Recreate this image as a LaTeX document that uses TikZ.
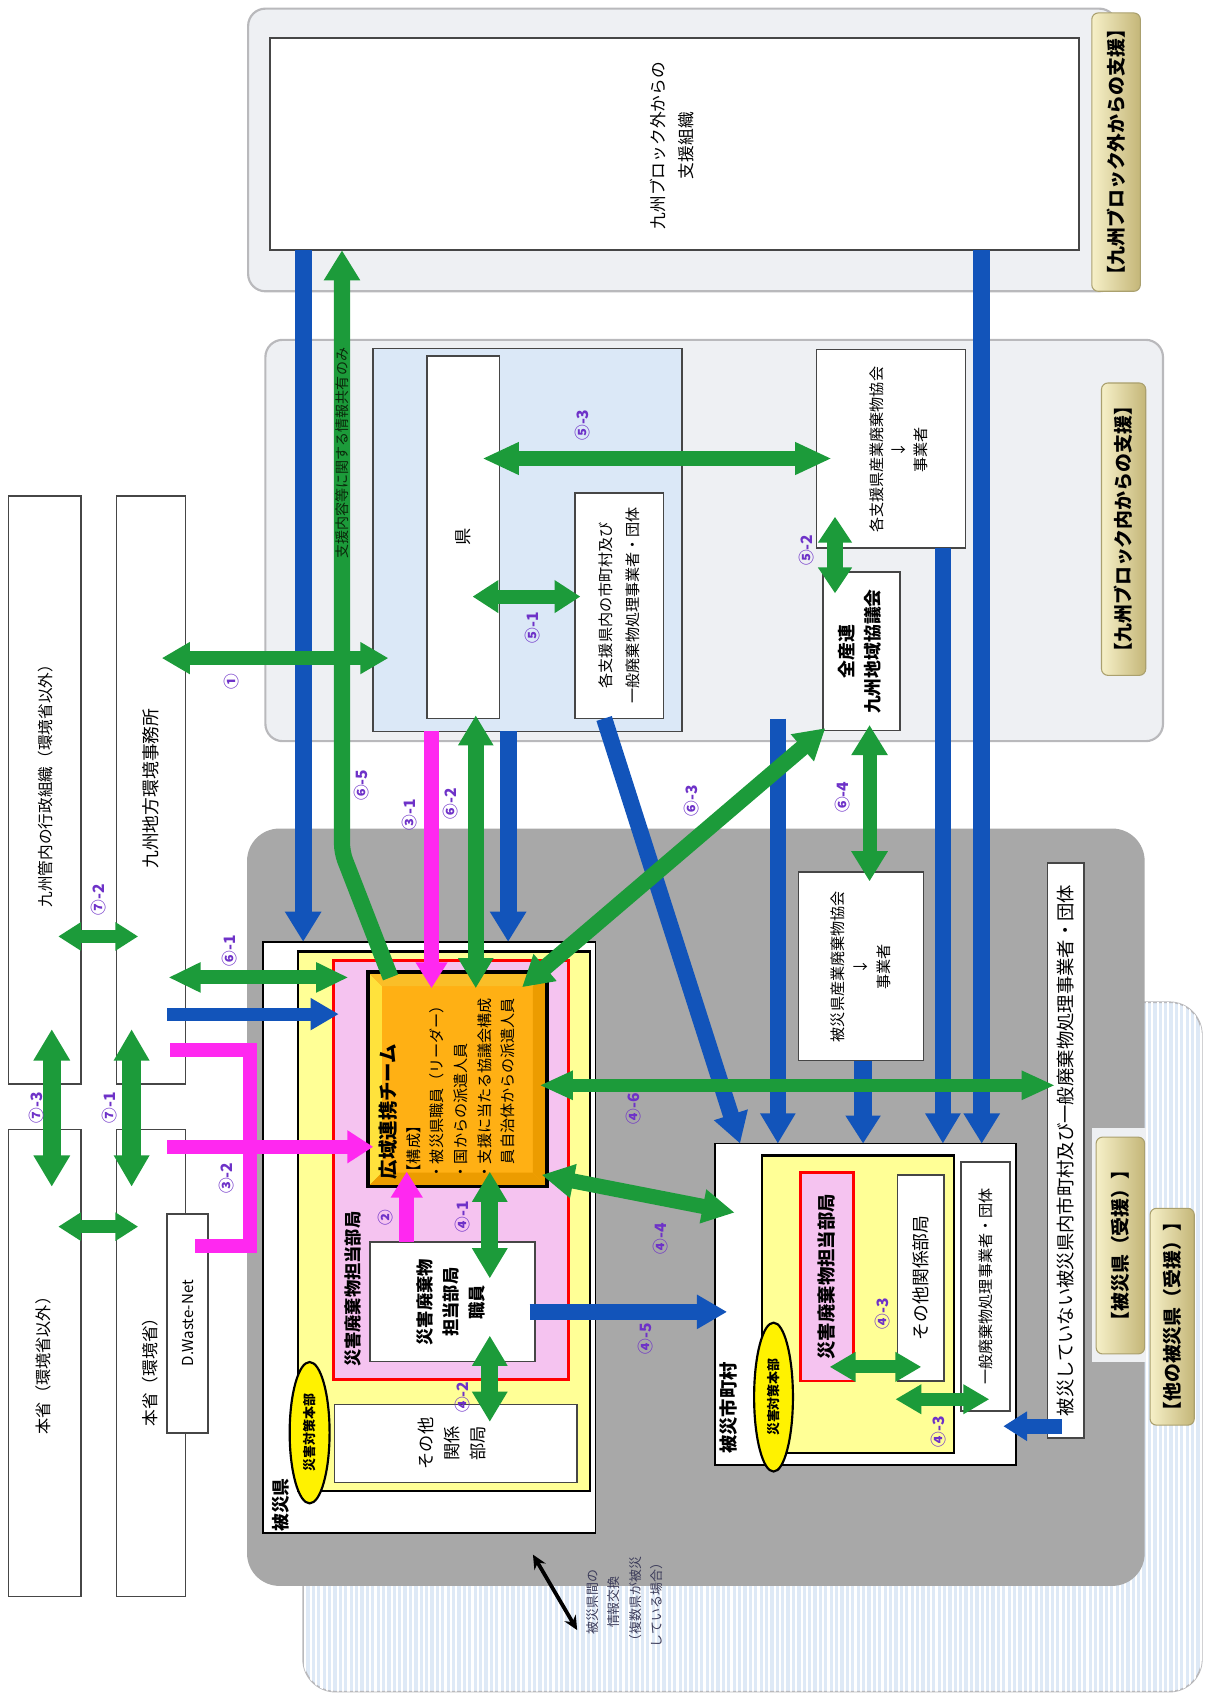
\documentclass[tikz,border=0pt]{standalone}
\usepackage{fontspec}
\setmainfont{Noto Sans CJK JP}
\usetikzlibrary{arrows.meta,shapes.geometric}
\definecolor{grn}{RGB}{28,155,58}
\definecolor{blu}{RGB}{18,84,186}
\definecolor{mag}{RGB}{255,40,240}
\definecolor{lab}{RGB}{110,50,200}
\definecolor{regbg}{RGB}{238,240,243}
\definecolor{regbd}{RGB}{185,185,188}
\definecolor{dgray}{RGB}{168,168,168}
\definecolor{lblue}{RGB}{219,232,247}
\definecolor{stripe}{RGB}{222,233,246}
\definecolor{yel}{RGB}{255,255,150}
\definecolor{pnk}{RGB}{245,195,240}
\definecolor{khl}{RGB}{246,240,200}
\definecolor{khd}{RGB}{196,182,120}
\definecolor{tabd}{RGB}{170,160,110}
\definecolor{bdr}{RGB}{70,70,70}
\definecolor{orin}{RGB}{255,176,20}
\definecolor{orl}{RGB}{255,226,60}
\definecolor{ord}{RGB}{236,156,0}
\definecolor{ort}{RGB}{250,190,40}
\definecolor{dgtxt}{RGB}{10,40,10}
\definecolor{bottxt}{RGB}{60,60,90}
\newcommand\myfs[2]{\fontsize{#1}{#2}\selectfont}
\begin{document}
\begin{tikzpicture}[x=1pt,y=-1pt,
 every node/.style={inner sep=0pt,outer sep=0pt},
 regbox/.style={rectangle,draw=regbd,line width=2pt,fill=regbg,rounded corners=16pt},
 wbox/.style={rectangle,draw=bdr,line width=1.5pt,fill=white},
 tabbox/.style={rectangle,rounded corners=6pt,draw=tabd,line width=1pt,left color=khl,right color=khd},
 rtext/.style={rotate=90,align=center,text=black},
 nlabel/.style={rotate=90,text=lab,font=\myfs{14.5}{16}\bfseries},
 gdbl/.style n args={3}{draw=grn,line width=#1,{Triangle[length=#2,width=#3]}-{Triangle[length=#2,width=#3]}},
 gsgl/.style n args={3}{draw=grn,line width=#1,-{Triangle[length=#2,width=#3]}},
 bsgl/.style n args={3}{draw=blu,line width=#1,-{Triangle[length=#2,width=#3]}},
 msgl/.style n args={3}{draw=mag,line width=#1,-{Triangle[length=#2,width=#3]}},
 gbig/.style={gdbl={15pt}{28pt}{31pt}},
 gmed/.style={gdbl={13pt}{26pt}{28pt}},
 gsml/.style={gdbl={12pt}{21pt}{25pt}},
 bbig/.style={bsgl={16pt}{28pt}{32pt}},
 marr/.style={msgl={14pt}{24pt}{28pt}},
]
\useasboundingbox (0,0) rectangle (1120,1573);

% ---------- background regions ----------
\node[rectangle,rounded corners=30pt,draw=regbd,line width=1.5pt,fill=stripe,minimum width=833pt,minimum height=639pt] (OTH) at (697.5,1248.5) {};
\begin{scope}
 \clip[rounded corners=30pt] (281,929) rectangle (1114,1568);
 \foreach \i in {0,...,167} \draw[white,line width=2pt] (283+\i*5,929) -- (283+\i*5,1568);
\end{scope}
\node[regbox,minimum width=805pt,minimum height=262pt] (RT) at (632.5,139) {};
\node[regbox,minimum width=832pt,minimum height=372pt] (RM) at (662,501) {};
\node[rectangle,rounded corners=30pt,fill=dgray,minimum width=832pt,minimum height=702pt] (R3) at (645,1119) {};
\node[rectangle,fill=regbg,minimum width=50pt,minimum height=216pt] (T3bg) at (1037,1154) {};

% ---------- tabs ----------
\node[tabbox,minimum width=45pt,minimum height=258pt] (T1) at (1034.5,141) {};
\node[tabbox,minimum width=41pt,minimum height=271pt] (T2) at (1041.5,490.5) {};
\node[tabbox,minimum width=45pt,minimum height=201pt] (T3) at (1038.5,1154.5) {};
\node[tabbox,minimum width=41pt,minimum height=201pt] (T4) at (1086.5,1220.5) {};

% ---------- boxes ----------
\node[wbox,minimum width=750pt,minimum height=197pt] (W1) at (625,133.5) {};
\node[wbox,fill=lblue,minimum width=286pt,minimum height=355pt] (LB) at (489,500.5) {};
\node[wbox,minimum width=67pt,minimum height=336pt] (Ken) at (429.5,498) {};
\node[wbox,minimum width=82pt,minimum height=209pt] (KS) at (574,561.5) {};
\node[wbox,minimum width=138pt,minimum height=184pt] (SH) at (826,416) {};
\node[wbox,minimum width=71pt,minimum height=147pt] (ZS) at (798.5,603.5) {};

\node[wbox,minimum width=67pt,minimum height=545pt] (kA) at (41.5,732.5) {};
\node[wbox,minimum width=64pt,minimum height=545pt] (kB) at (140,732.5) {};
\node[wbox,minimum width=67pt,minimum height=433pt] (hA) at (41.5,1263.5) {};
\node[wbox,minimum width=64pt,minimum height=433pt] (hB) at (140,1263.5) {};
\node[wbox,minimum width=38pt,minimum height=203pt] (DW) at (174,1226.5) {};

\node[wbox,draw=black,minimum width=308pt,minimum height=548pt] (KW) at (398,1147) {};
\node[rectangle,draw=black,line width=2pt,fill=yel,minimum width=271pt,minimum height=500pt] (KY) at (411.5,1132) {};
\node[rectangle,draw=red,line width=2.5pt,fill=pnk,minimum width=218pt,minimum height=389pt] (KP) at (418,1084.5) {};
\node[rectangle,draw=black,line width=3pt,fill=orin,minimum width=166pt,minimum height=199pt] (OR) at (424,1000.5) {};
\fill[orl] (342.5,902.5) -- (354,914) -- (354,1087) -- (342.5,1098.5) -- cycle;
\fill[ort] (342.5,902.5) -- (505.5,902.5) -- (494,914) -- (354,914) -- cycle;
\fill[ord] (505.5,902.5) -- (494,914) -- (494,1087) -- (505.5,1098.5) -- cycle;
\fill[ord] (342.5,1098.5) -- (354,1087) -- (494,1087) -- (505.5,1098.5) -- cycle;
\draw[black,line width=3pt] (OR.north west) rectangle (OR.south east);
\node[wbox,minimum width=153pt,minimum height=111pt] (SK) at (419.5,1206.5) {};
\node[wbox,minimum width=225pt,minimum height=72pt] (SO1) at (422.5,1338) {};
\node[ellipse,draw=black,line width=2pt,fill=yellow,minimum width=37pt,minimum height=131pt] (E1) at (287,1328) {};

\node[wbox,minimum width=116pt,minimum height=175pt] (HS) at (798,895.5) {};
\node[wbox,minimum width=34pt,minimum height=533pt] (HN) at (988,1066.5) {};
\node[wbox,draw=black,minimum width=279pt,minimum height=298pt] (SC) at (802.5,1209) {};
\node[rectangle,draw=black,line width=2pt,fill=yel,minimum width=178pt,minimum height=276pt] (SY) at (795,1209) {};
\node[rectangle,draw=red,line width=2.5pt,fill=pnk,minimum width=49pt,minimum height=193pt] (SP) at (766.5,1183.5) {};
\node[wbox,minimum width=43pt,minimum height=191pt] (SO2) at (853.5,1184.5) {};
\node[wbox,minimum width=45pt,minimum height=231pt] (IP) at (913.5,1192.5) {};
\node[ellipse,draw=black,line width=2pt,fill=yellow,minimum width=36pt,minimum height=138pt] (E2) at (717,1295) {};

% ---------- connector end points ----------
\foreach \n/\x/\y in {b4a/560/666,b4b/686/1060,b5a/721/666,b8a/155/940,b8b/314/940,
  b9a/491/1216,b9b/674/1216,b10a/984/1322,b10b/930/1322,
  g1a/150/610,g1b/360/610,g51a/438/553,g51b/538/553,g52a/774/479,g52b/774/550,
  g53a/447/425,g53b/771/425,g61a/156/906,g61b/323/906,g62a/441/663,g62b/441/916,
  g63a/484/915,g63b/765/675,g64a/806/672,g64b/806/817,g65a/362/906,g65b/317/790,
  g71a/122/954,g71b/122/1100,g73a/48/954,g73b/48/1100,g72a/54/868,g72b/128/868,
  g7xa/54/1137,g7xb/128/1137,g41a/454/1086,g41b/454/1185,g42a/454/1238,g42b/454/1318,
  g44a/502/1089,g44b/681/1124,g46a/500/1006,g46b/978/1006,g43a/769/1267,g43b/854/1267,
  g43c/830/1297,g43d/917/1297,m31b/400/916,m2b/377/1086,m32a/155/1063,m32b/346/1063,
  mp1/181/1155,mp2/232/1155,mp3/232/973,mp4/158/973,k1/494/1441,k2/535/1511,
  x281/281/0,x910/910/0,x471/471/0,x721/721/0,x874/874/0,x800/800/0,x400/400/0,x377/377/0,x317/317/0}
  \coordinate (\n) at (\x,\y);

% ---------- blue arrows ----------
\draw[bbig] (x281 |- W1.south) -- (x281 |- KW.north);
\draw[bbig] (x910 |- W1.south) -- (x910 |- SC.north);
\draw[bbig] (x471 |- LB.south) -- (x471 |- KW.north);
\draw[bsgl={15pt}{28pt}{31pt}] (b4a) -- (b4b);
\draw[bsgl={15pt}{28pt}{31pt}] (b5a) -- (x721 |- SC.north);
\draw[bsgl={15pt}{28pt}{31pt}] (x874 |- SH.south) -- (x874 |- SC.north);
\draw[bsgl={16pt}{26pt}{31pt}] (x800 |- HS.south) -- (x800 |- SC.north);
\draw[bsgl={12pt}{26pt}{28pt}] (b8a) -- (b8b);
\draw[bsgl={15pt}{28pt}{30pt}] (b9a) -- (b9b);
\draw[bsgl={14pt}{22pt}{26pt}] (b10a) -- (b10b);

% ---------- green arrows ----------
\draw[gsgl={15pt}{28pt}{32pt},rounded corners=8pt] (g65a) -- (g65b) -- (x317 |- W1.south);
\draw[gmed] (g1a) -- (g1b);
\draw[gdbl={13pt}{24pt}{29pt}] (g51a) -- (g51b);
\draw[gdbl={14pt}{24pt}{30pt}] (g52a) -- (g52b);
\draw[gdbl={14pt}{34pt}{28pt}] (g53a) -- (g53b);
\draw[gdbl={13pt}{30pt}{26pt}] (g61a) -- (g61b);
\draw[gbig] (g62a) -- (g62b);
\draw[gbig] (g63a) -- (g63b);
\draw[gdbl={13pt}{28pt}{32pt}] (g64a) -- (g64b);
\draw[gdbl={17pt}{29pt}{31pt}] (g71a) -- (g71b);
\draw[gdbl={17pt}{29pt}{32pt}] (g73a) -- (g73b);
\draw[gsml] (g72a) -- (g72b);
\draw[gsml] (g7xa) -- (g7xb);
\draw[gdbl={16pt}{28pt}{31pt}] (g41a) -- (g41b);
\draw[gdbl={16pt}{28pt}{31pt}] (g42a) -- (g42b);
\draw[gdbl={14pt}{30pt}{30pt}] (g44a) -- (g44b);
\draw[gdbl={12pt}{31pt}{25pt}] (g46a) -- (g46b);
\draw[gdbl={12pt}{24pt}{26pt}] (g43a) -- (g43b);
\draw[gdbl={12pt}{24pt}{26pt}] (g43c) -- (g43d);

% ---------- magenta arrows ----------
\draw[marr] (x400 |- LB.south) -- (m31b);
\draw[marr] (x377 |- SK.north) -- (m2b);
\draw[mag,line width=13pt,miter limit=4] (mp1) -- (mp2) -- (mp3) -- (mp4);
\draw[msgl={13pt}{24pt}{29pt}] (m32a) -- (m32b);

% ---------- black arrow ----------
\draw[black,line width=3.5pt,{Stealth[length=13pt,width=12pt]}-{Stealth[length=13pt,width=12pt]}] (k1) -- (k2);

% ---------- texts ----------
\node[rtext,font=\myfs{15.5}{26}] (tW1) at (623,135) {九州ブロック外からの\\支援組織};
\node[rtext,font=\myfs{17.5}{20}\bfseries] (tT1) at (T1.center) {【九州ブロック外からの支援】};
\node[rtext,font=\myfs{17.5}{20}\bfseries] (tT2) at (T2.center) {【九州ブロック内からの支援】};
\node[rtext,font=\myfs{17.5}{20}\bfseries] (tT3) at (T3.center) {【被災県（受援）】};
\node[rtext,font=\myfs{17.5}{20}\bfseries] (tT4) at (T4.center) {【他の被災県（受援）】};
\node[rtext,font=\myfs{14.5}{18}] (tkA) at (42,725) {九州管内の行政組織（環境省以外）};
\node[rtext,font=\myfs{16.5}{18}] (tkB) at (140,731) {九州地方環境事務所};
\node[rtext,font=\myfs{15}{18}] (thA) at (40,1262) {本省（環境省以外）};
\node[rtext,font=\myfs{15.5}{18}] (thB) at (139,1268) {本省（環境省）};
\node[rtext,font=\myfs{14}{16}] (tDW) at (DW.center) {D.Waste-Net};
\node[rtext,font=\myfs{16}{18}] (tKen) at (Ken.center) {県};
\node[rtext,font=\myfs{14}{25}] (tKS) at (574,561) {各支援県内の市町村及び\\一般廃棄物処理事業者・団体};
\node[rtext,font=\myfs{14}{20}] (tSH) at (833,417) {各支援県産業廃棄物協会\\↓\\事業者};
\node[rtext,font=\myfs{16.5}{24}\bfseries] (tZS) at (797,604) {全産連\\九州地域協議会};
\node[rtext,font=\myfs{14}{21.5}] (tHS) at (798,896) {被災県産業廃棄物協会\\↓\\事業者};
\node[rtext,font=\myfs{17}{20}] (tHN) at (HN.center) {被災していない被災県内市町村及び一般廃棄物処理事業者・団体};
\node[rtext,font=\myfs{17}{20}\bfseries] (tSP) at (SP.center) {災害廃棄物担当部局};
\node[rtext,font=\myfs{16.5}{20}] (tSO2) at (SO2.center) {その他関係部局};
\node[rtext,font=\myfs{14}{18}] (tIP) at (IP.center) {一般廃棄物処理事業者・団体};
\node[rtext,font=\myfs{17}{20}\bfseries] (tSC) at (675,1305) {被災市町村};
\node[rtext,font=\myfs{12}{14}\bfseries] (tE2) at (E2.center) {災害対策本部};
\node[rtext,font=\myfs{12}{14}\bfseries] (tE1) at (E1.center) {災害対策本部};
\node[rtext,font=\myfs{16.5}{18}\bfseries] (tKW) at (260,1395) {被災県};
\node[rtext,font=\myfs{16}{24}\bfseries] (tSK) at (418,1207) {災害廃棄物\\担当部局\\職員};
\node[rtext,font=\myfs{16}{24}] (tSO1) at (419,1338) {その他\\関係\\部局};
\node[rotate=90,anchor=west,font=\myfs{16}{18}\bfseries] (tKP) at (327,1267) {災害廃棄物担当部局};
\node[rotate=90,anchor=north west,align=left,font=\myfs{14}{22}] (tOR) at (351,1093)
  {{\myfs{18}{22}\bfseries 広域連携チーム}\\【構成】\\・被災県職員（リーダー）\\・国からの派遣人員\\・支援に当たる協議会構成\\\hspace*{1em}員自治体からの派遣人員};
\node[rtext,font=\myfs{13}{15},text=dgtxt] (tG65) at (317,420) {支援内容等に関する情報共有のみ};
\node[rtext,font=\myfs{12}{20},text=bottxt] (tBot) at (579,1485) {被災県間の\\情報交換\\（複数県が被災\\している場合）};

% ---------- number labels ----------
\node[nlabel] (l72) at (91,834) {⑦-2};
\node[nlabel] (l73) at (34,1027) {⑦-3};
\node[nlabel] (l71) at (102,1027) {⑦-1};
\node[nlabel] (l1) at (215,632) {①};
\node[nlabel] (l61) at (213,881) {⑥-1};
\node[nlabel] (l32) at (210,1092) {③-2};
\node[nlabel] (l65) at (335,728) {⑥-5};
\node[nlabel] (l31) at (380,755) {③-1};
\node[nlabel] (l62) at (418,745) {⑥-2};
\node[nlabel] (l63) at (641,742) {⑥-3};
\node[nlabel] (l64) at (781,739) {⑥-4};
\node[nlabel] (l51) at (494,582) {⑤-1};
\node[nlabel] (l52) at (748,510) {⑤-2};
\node[nlabel] (l53) at (540,394) {⑤-3};
\node[nlabel] (l2) at (357,1129) {②};
\node[nlabel] (l41) at (429,1128) {④-1};
\node[nlabel] (l42) at (429,1295) {④-2};
\node[nlabel] (l43a) at (818,1218) {④-3};
\node[nlabel] (l43b) at (870,1327) {④-3};
\node[nlabel] (l44) at (612,1148) {④-4};
\node[nlabel] (l45) at (598,1241) {④-5};
\node[nlabel] (l46) at (587,1028) {④-6};
\end{tikzpicture}
\end{document}
